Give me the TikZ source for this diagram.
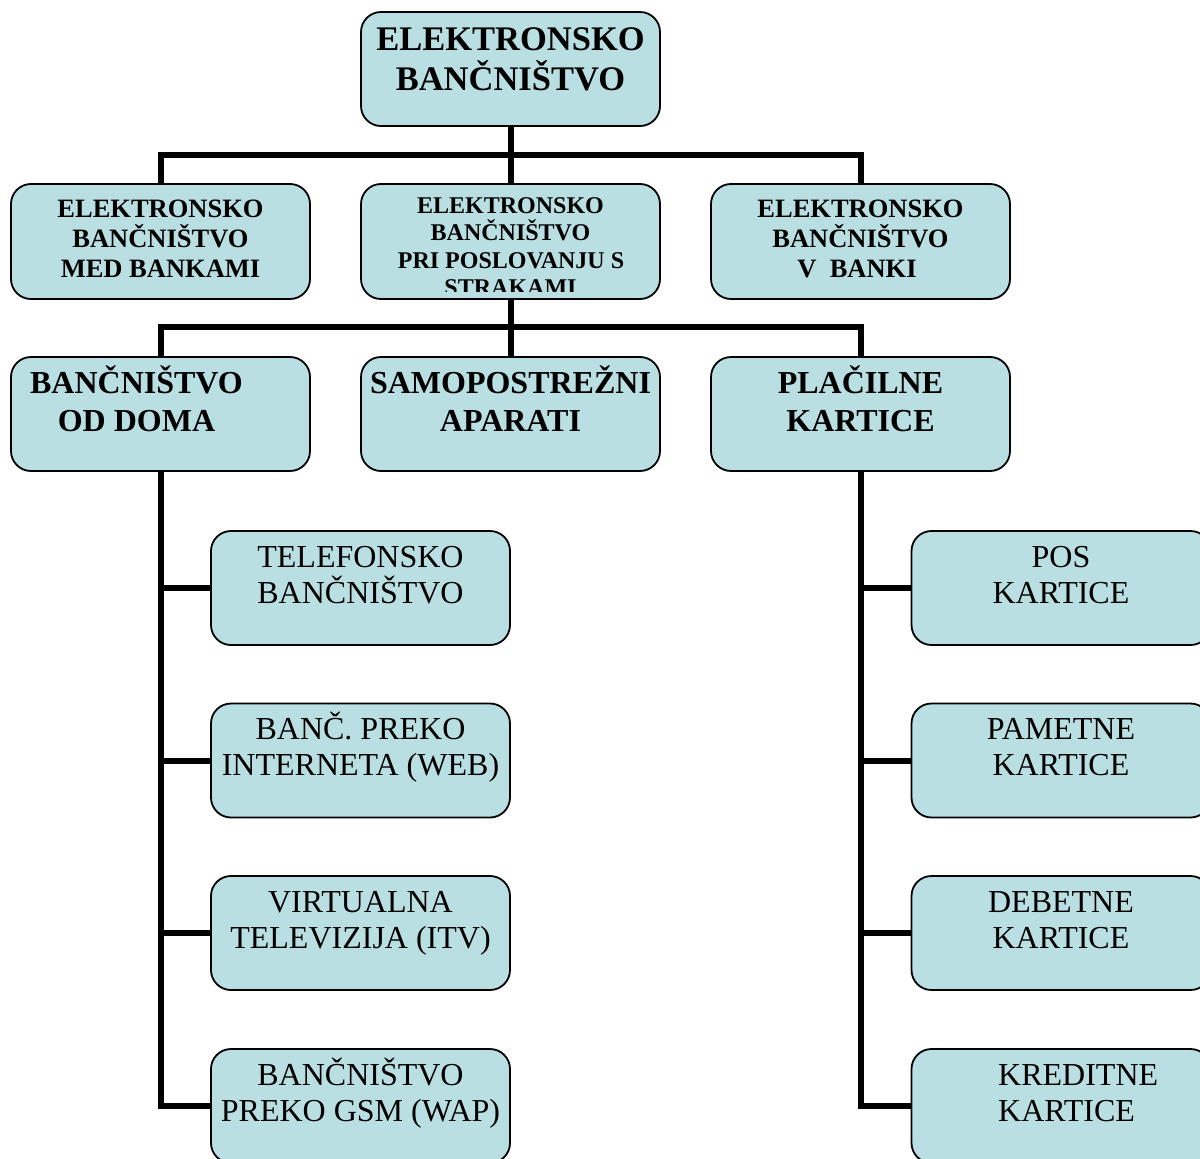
\documentclass[tikz,border=0pt]{standalone}
\usepackage{fontspec}
\setmainfont{Liberation Serif}
\usetikzlibrary{backgrounds}
\definecolor{boxfill}{RGB}{186,223,227}
\tikzset{
  box/.style={draw=black, line width=1.8pt, fill=boxfill, rounded corners=20pt,
    minimum width=299pt, minimum height=114pt, inner sep=0pt},
  conn/.style={line width=6pt, line join=miter},
  txt/.style={anchor=base, inner sep=0pt},
  ftop/.style={font=\fontsize{34.5}{40}\selectfont\bfseries},
  fsec/.style={font=\fontsize{26.5}{30}\selectfont\bfseries},
  fmid/.style={font=\fontsize{24}{27}\selectfont\bfseries},
  fthr/.style={font=\fontsize{32}{38}\selectfont\bfseries},
  fleaf/.style={font=\fontsize{32}{37}\selectfont},
}
\begin{document}
\begin{tikzpicture}[x=1pt,y=-1pt]
\useasboundingbox (0,0) rectangle (1200,1159);
\clip (0,0) rectangle (1200,1159);

% boxes
\node[box] (top) at (510.5,69) {};
\node[box, minimum height=115pt] (l2a) at (160.5,241.5) {};
\node[box, minimum height=115pt] (l2b) at (510.5,241.5) {};
\node[box, minimum height=115pt] (l2c) at (860.5,241.5) {};
\node[box] (l3a) at (160.5,414) {};
\node[box] (l3b) at (510.5,414) {};
\node[box] (l3c) at (860.5,414) {};
\node[box] (a1) at (360.5,588) {};
\node[box] (a2) at (360.5,760.5) {};
\node[box] (a3) at (360.5,933) {};
\node[box] (a4) at (360.5,1106) {};
\node[box] (b1) at (1061,588) {};
\node[box] (b2) at (1061,760.5) {};
\node[box] (b3) at (1061,933) {};
\node[box] (b4) at (1061,1106) {};

% connectors
\begin{pgfonlayer}{background}
\draw[conn] (top.south) -- (l2b.north);
\draw[conn] (l2a.north) -- (l2a.north |- 0,155) -- (l2c.north |- 0,155) -- (l2c.north);
\draw[conn] (l2b.south) -- (l3b.north);
\draw[conn] (l3a.north) -- (l3a.north |- 0,327) -- (l3c.north |- 0,327) -- (l3c.north);
\draw[conn] (l3a.south) |- (a4.west);
\draw[conn] (l3a.south |- a1.west) -- (a1.west);
\draw[conn] (l3a.south |- a2.west) -- (a2.west);
\draw[conn] (l3a.south |- a3.west) -- (a3.west);
\draw[conn] (l3c.south) |- (b4.west);
\draw[conn] (l3c.south |- b1.west) -- (b1.west);
\draw[conn] (l3c.south |- b2.west) -- (b2.west);
\draw[conn] (l3c.south |- b3.west) -- (b3.west);
\end{pgfonlayer}

% texts
\node[txt,ftop] (t0a) at (510.5,50) {ELEKTRONSKO};
\node[txt,ftop] (t0b) at (510.5,90) {BANČNIŠTVO};

\node[txt,fsec] (t1a) at (160.5,217) {ELEKTRONSKO};
\node[txt,fsec] (t1b) at (160.5,247) {BANČNIŠTVO};
\node[txt,fsec] (t1c) at (160.5,277) {MED BANKAMI};

\begin{scope}
\clip (362,186) rectangle (659,291);
\node[txt,fmid] (t2a) at (510.5,213) {ELEKTRONSKO};
\node[txt,fmid] (t2b) at (510.5,240.5) {BANČNIŠTVO};
\node[txt,fmid] (t2c) at (511,268) {PRI POSLOVANJU S};
\node[txt,fmid] (t2d) at (510.5,295.5) {STRAKAMI};
\end{scope}

\node[txt,fsec] (t3a) at (860.5,217) {ELEKTRONSKO};
\node[txt,fsec] (t3b) at (860.5,247) {BANČNIŠTVO};
\node[txt,fsec] (t3c) at (857,277) {V\ \ BANKI};

\node[txt,fthr] (t4a) at (136.5,393) {BANČNIŠTVO};
\node[txt,fthr] (t4b) at (136.5,431) {OD DOMA};
\node[txt,fthr] (t5a) at (510.5,393) {SAMOPOSTREŽNI};
\node[txt,fthr] (t5b) at (510.5,431) {APARATI};
\node[txt,fthr] (t6a) at (860.5,393) {PLAČILNE};
\node[txt,fthr] (t6b) at (860.5,431) {KARTICE};

\node[txt,fleaf] (ta1a) at (360.5,567) {TELEFONSKO};
\node[txt,fleaf] (ta1b) at (360.5,603) {BANČNIŠTVO};
\node[txt,fleaf] (ta2a) at (360.5,739.5) {BANČ. PREKO};
\node[txt,fleaf] (ta2b) at (360.5,775.5) {INTERNETA (WEB)};
\node[txt,fleaf] (ta3a) at (360.5,912) {VIRTUALNA};
\node[txt,fleaf] (ta3b) at (360.5,948) {TELEVIZIJA (ITV)};
\node[txt,fleaf] (ta4a) at (360.5,1085) {BANČNIŠTVO};
\node[txt,fleaf] (ta4b) at (360.5,1121) {PREKO GSM (WAP)};

\node[txt,fleaf] (tb1a) at (1061,567) {POS};
\node[txt,fleaf] (tb1b) at (1061,603) {KARTICE};
\node[txt,fleaf] (tb2a) at (1061,739.5) {PAMETNE};
\node[txt,fleaf] (tb2b) at (1061,775.5) {KARTICE};
\node[txt,fleaf] (tb3a) at (1061,912) {DEBETNE};
\node[txt,fleaf] (tb3b) at (1061,948) {KARTICE};
\node[txt,fleaf,anchor=base west] (tb4a) at (998,1085) {KREDITNE};
\node[txt,fleaf,anchor=base west] (tb4b) at (998,1121) {KARTICE};
\end{tikzpicture}
\end{document}
